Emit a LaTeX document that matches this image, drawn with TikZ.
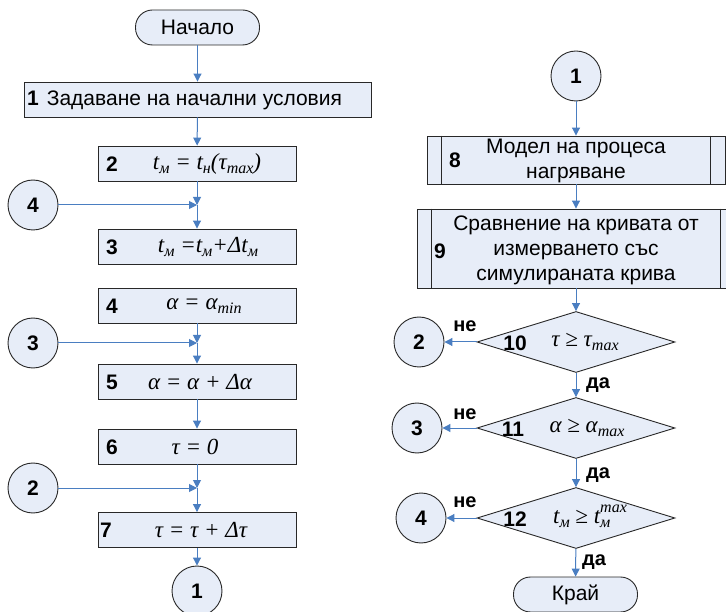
\documentclass[tikz,border=0pt]{standalone}
\usepackage{fontspec}
\setmainfont{Liberation Sans}
\newfontfamily\eqfont{Liberation Serif}
\usetikzlibrary{shapes.geometric, arrows.meta, positioning, calc}
\definecolor{boxfill}{RGB}{231,237,248}
\definecolor{flowblue}{RGB}{74,126,193}
\definecolor{edgegray}{RGB}{40,40,40}
\newcommand{\eq}[1]{{\eqfont\itshape #1}}
\newcommand{\lo}[1]{\raisebox{-0.35ex}{\fontsize{16}{16}\selectfont #1}}
\newcommand{\lohi}[2]{\rlap{\lo{#1}}\raisebox{1.1ex}{\fontsize{16}{16}\selectfont #2}}
\tikzset{
  base/.style={draw=edgegray, fill=boxfill, line width=0.9pt, inner sep=0pt},
  proc/.style={base, rectangle, minimum width=198pt, minimum height=35pt},
  term/.style={base, rectangle, rounded corners=17pt, minimum width=124pt, minimum height=35pt, font=\fontsize{21}{24}\selectfont},
  conn/.style={base, circle, minimum size=50pt, font=\bfseries\fontsize{21}{24}\selectfont},
  dec/.style={base, diamond, minimum width=198pt, minimum height=61pt},
  num/.style={font=\bfseries\fontsize{21}{24}\selectfont, inner sep=0pt},
  frm/.style={font=\fontsize{23}{26}\selectfont, inner sep=0pt},
  txt/.style={font=\fontsize{21}{25}\selectfont, align=center, inner sep=0pt},
  lbl/.style={font=\bfseries\fontsize{20}{22}\selectfont, inner sep=0pt},
  arr/.style={flowblue, line width=1pt, -{Triangle[width=8pt,length=8pt]}}
}
\begin{document}
\begin{tikzpicture}[x=1pt, y=-1pt]
    \useasboundingbox (0,0) rectangle (726,612);

    % Left column
    \node[term] (start) at (197.5,27.5) {Начало};
    \node[proc, minimum width=347pt] (b1) at (197.5,99.5) {};
    \node[txt, anchor=west] at (27,100) {\textbf{1}\hspace{8pt}Задаване на начални условия};

    \node[proc] (b2) at (197,163.5) {};
    \node[num] at (112,164) {2};
    \node[frm] at (207,164) {\eq{t\lo{м} = t\lo{н}(τ\lo{max})}};

    \node[proc] (b3) at (197,246.5) {};
    \node[num] at (112,247) {3};
    \node[frm] at (208,247) {\eq{t\lo{м} =t\lo{м}+Δt\lo{м}}};

    \node[proc] (b4) at (197,305.5) {};
    \node[num] at (112,306) {4};
    \node[frm] at (204,306) {\eq{α = α\lo{min}}};

    \node[proc] (b5) at (197,381.5) {};
    \node[num] at (112,382) {5};
    \node[frm] at (200,382) {\eq{α = α + Δα}};

    \node[proc] (b6) at (197,446.5) {};
    \node[num] at (112,447) {6};
    \node[frm] at (195,447) {\eq{τ = 0}};

    \node[proc] (b7) at (197,530) {};
    \node[num] at (106,530) {7};
    \node[frm] at (201,530) {\eq{τ = τ + Δτ}};

    \node[conn] (c1) at (197,591) {1};

    % Connectors on the left
    \node[conn] (c4) at (33,205) {4};
    \node[conn] (c3) at (33,343) {3};
    \node[conn] (c2) at (33,488) {2};
    \coordinate (j4) at (197,205);
    \coordinate (j3) at (197,343);
    \coordinate (j2) at (197,488);

    \draw[arr] (start) -- (b1);
    \draw[arr] (b1) -- (b2);
    \draw[arr] (b2) -- (j4);
    \draw[arr] (c4) -- (j4);
    \draw[arr] (j4) -- (b3);
    \draw[arr] (b4) -- (j3);
    \draw[arr] (c3) -- (j3);
    \draw[arr] (j3) -- (b5);
    \draw[arr] (b5) -- (b6);
    \draw[arr] (b6) -- (j2);
    \draw[arr] (c2) -- (j2);
    \draw[arr] (j2) -- (b7);
    \draw[arr] (b7) -- (c1);

    % Right column
    \node[conn] (r1) at (576,76) {1};
    \node[proc, minimum width=298pt, minimum height=48pt] (b8) at (576,160) {};
    \node[txt] at (576,161) {Модел на процеса\\нагряване};
    \node[num] at (455,160) {8};

    \node[proc, minimum width=318pt, minimum height=79pt] (b9) at (576,248.5) {};
    \node[txt] at (576,250) {Сравнение на кривата от\\измерването със\\симулираната крива};
    \node[num] at (440,251) {9};

    \foreach \b in {b8,b9} {
        \draw[edgegray, line width=0.9pt] ($(\b.north west)+(15,0)$) -- ($(\b.south west)+(15,0)$);
        \draw[edgegray, line width=0.9pt] ($(\b.north east)+(-15,0)$) -- ($(\b.south east)+(-15,0)$);
    }

    \node[dec] (d10) at (576,342) {};
    \node[num] at (515,343) {10};
    \node[frm] at (585,342) {\eq{τ ≥ τ\lo{max}}};

    \node[dec] (d11) at (576,428) {};
    \node[num] at (513,429) {11};
    \node[frm] at (587,428) {\eq{α ≥ α\lo{max}}};

    \node[dec] (d12) at (576,518) {};
    \node[num] at (515,519) {12};
    \node[frm] at (590,516) {\eq{t\lo{м} ≥ t\lohi{м}{max}}};

    \node[term] (end) at (575.5,594.5) {Край};

    \node[conn] (rc2) at (419,342) {2};
    \node[conn] (rc3) at (417,428) {3};
    \node[conn] (rc4) at (421,518) {4};

    \draw[arr] (r1) -- (b8);
    \draw[arr] (b8) -- (b9);
    \draw[arr] (b9) -- (d10);
    \draw[arr] (d10) -- (d11);
    \draw[arr] (d11) -- (d12);
    \draw[arr] (d12) -- (end);
    \draw[arr] (d10.west) -- (rc2);
    \draw[arr] (d11.west) -- (rc3);
    \draw[arr] (d12.west) -- (rc4);

    \node[lbl] at (465,326) {не};
    \node[lbl] at (465,414) {не};
    \node[lbl] at (465,502) {не};
    \node[lbl] at (598,385) {да};
    \node[lbl] at (598,475) {да};
    \node[lbl] at (594,562) {да};
\end{tikzpicture}
\end{document}
